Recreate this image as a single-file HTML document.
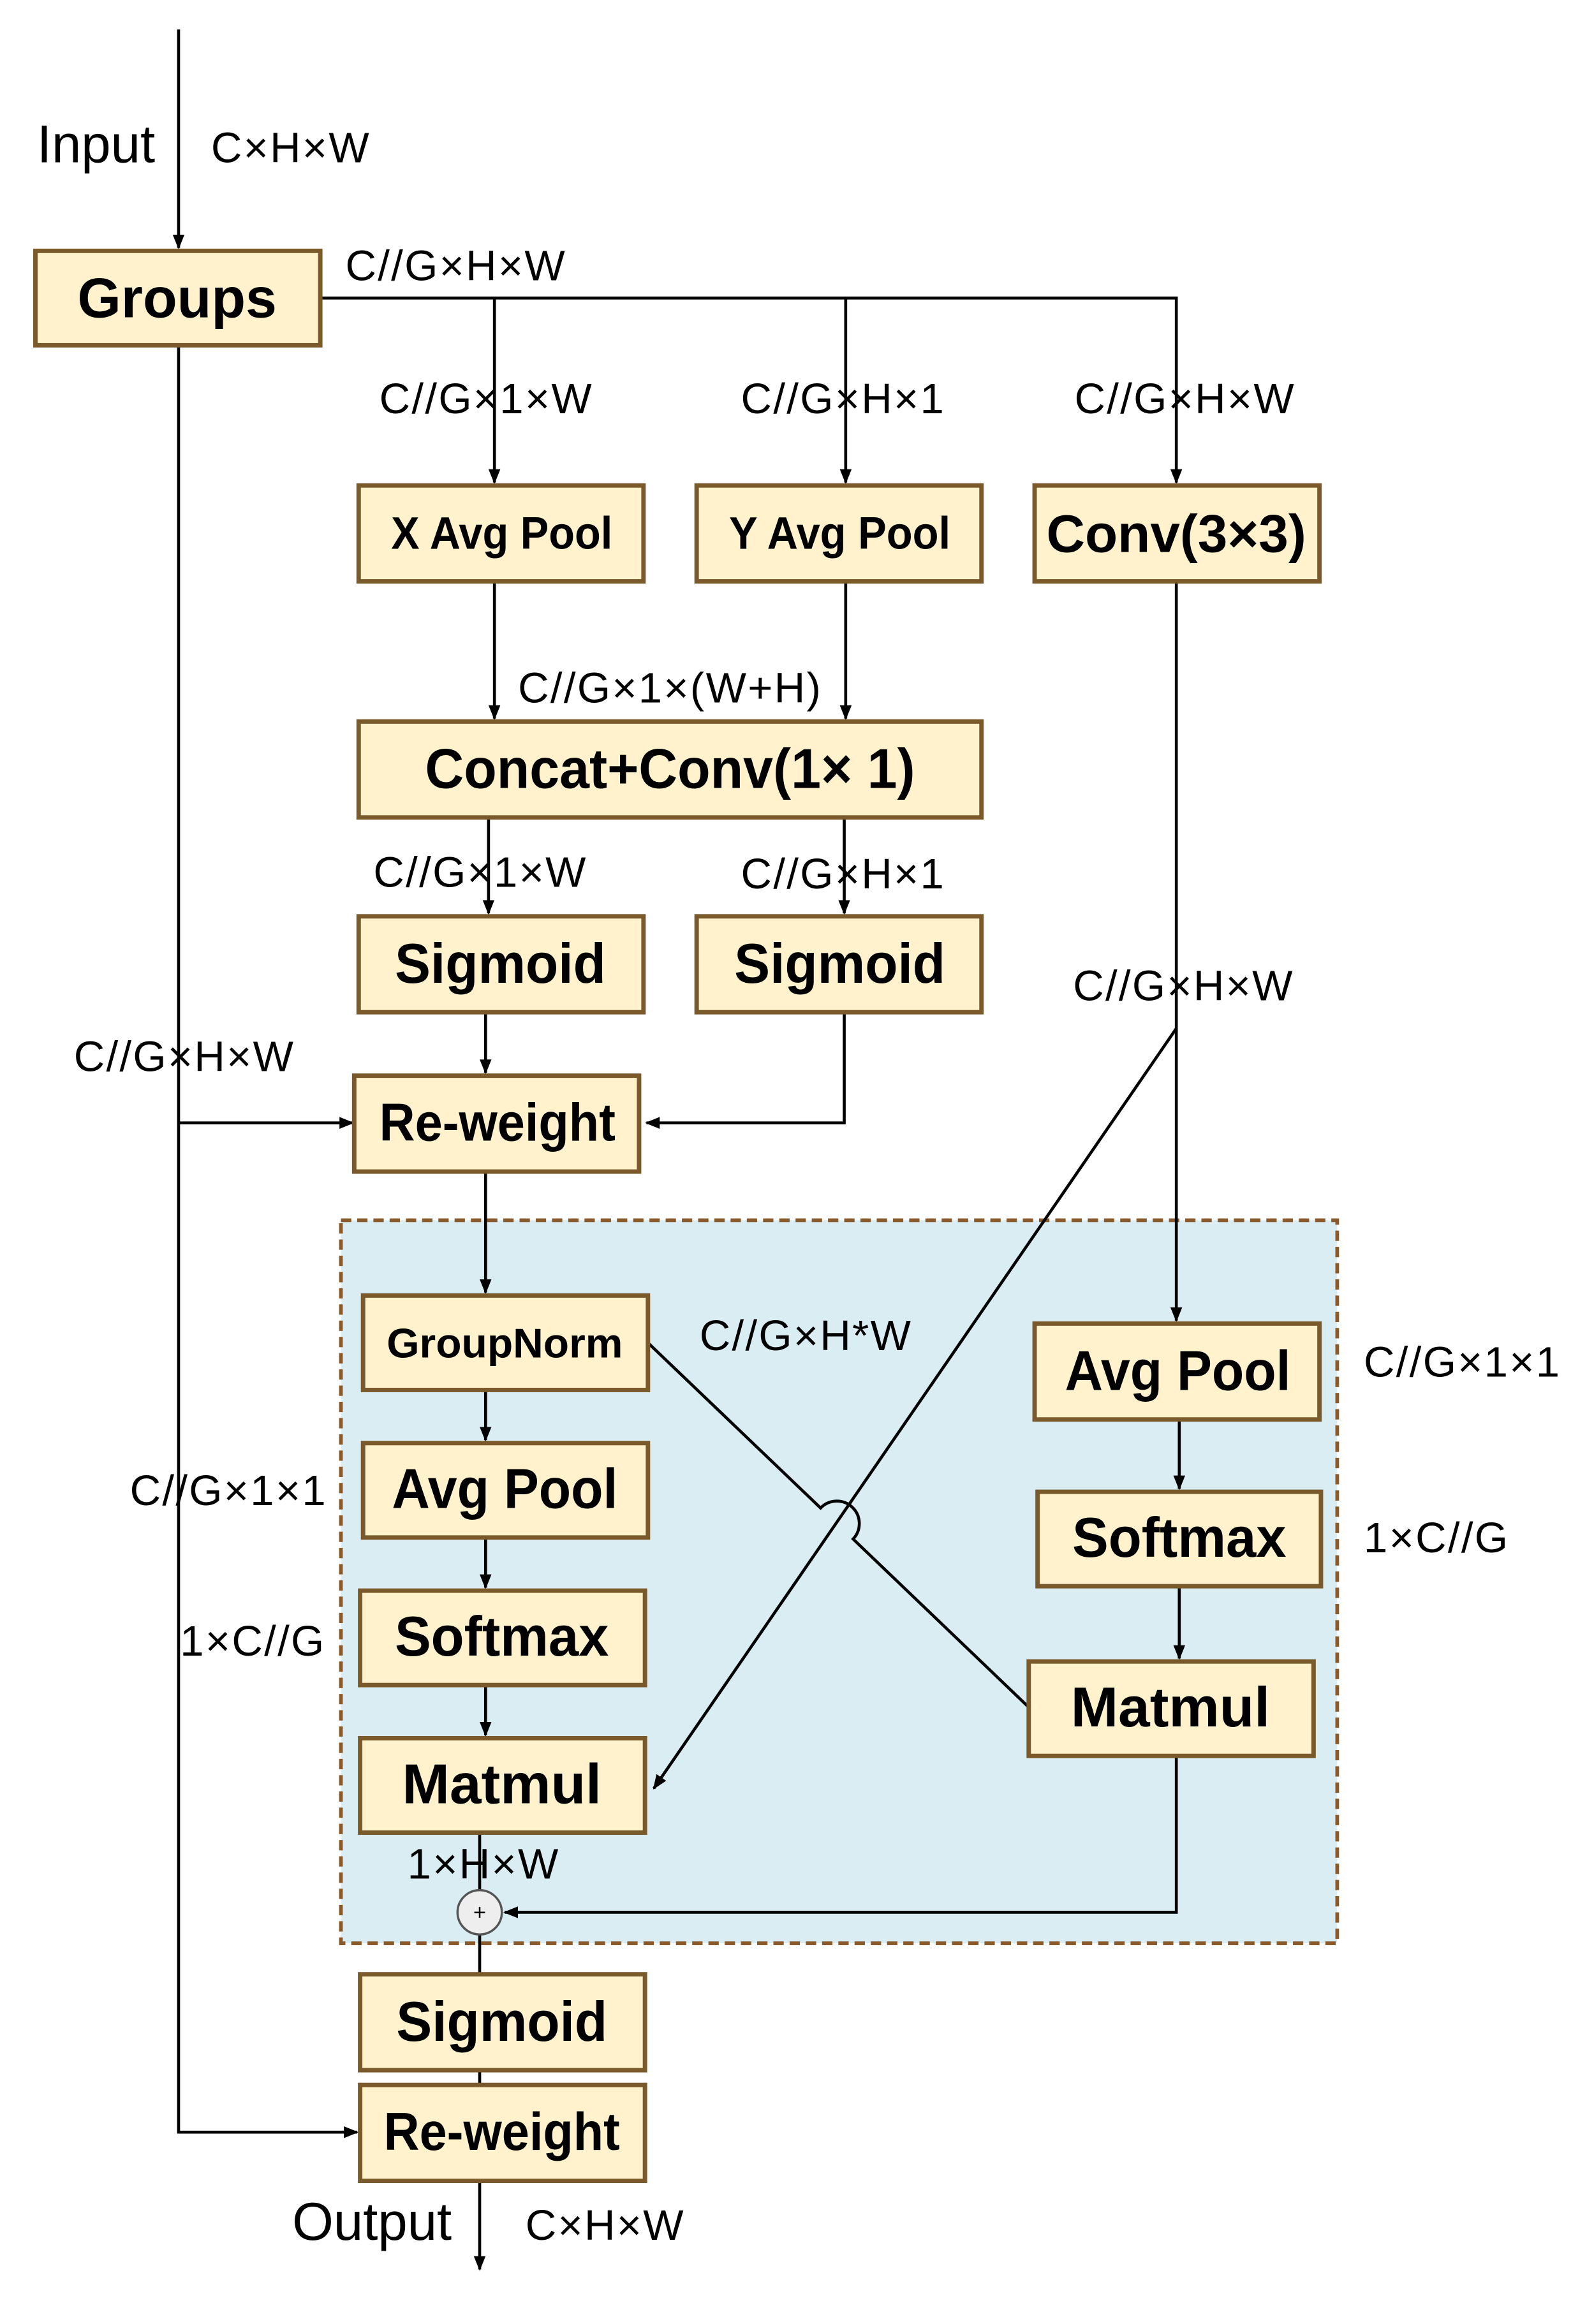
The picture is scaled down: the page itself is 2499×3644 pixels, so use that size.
<!DOCTYPE html>
<html><head><meta charset="utf-8"><style>
html,body{margin:0;padding:0;background:#fff;}
svg{display:block;}
.b{fill:#fff2cc;stroke:#7a5a2b;stroke-width:3;}
.t{font-family:"Liberation Sans",sans-serif;font-weight:bold;fill:#000;text-anchor:middle;}
.l{font-family:"Liberation Sans",sans-serif;fill:#000;font-size:29px;letter-spacing:1px;}
.ln{stroke:#000;stroke-width:2;fill:none;}
</style></head><body>
<svg width="2499" height="3644" viewBox="0 0 1080 1575" preserveAspectRatio="none" xmlns="http://www.w3.org/2000/svg">
<defs><marker id="a" markerWidth="10" markerHeight="10" refX="9" refY="5" orient="auto" markerUnits="userSpaceOnUse"><path d="M0,1 L10,5 L0,9 z" fill="#000"/></marker></defs>
<rect x="231" y="827" width="675" height="490" fill="#daedf3" stroke="#8a5a2b" stroke-width="2.5" stroke-dasharray="7,4"/>
<path class="ln" d="M121,20 V168" marker-end="url(#a)"/>
<path class="ln" d="M217,202 H797 V327" marker-end="url(#a)"/>
<path class="ln" d="M335,202 V327" marker-end="url(#a)"/>
<path class="ln" d="M573,202 V327" marker-end="url(#a)"/>
<path class="ln" d="M335,394 V487" marker-end="url(#a)"/>
<path class="ln" d="M573,394 V487" marker-end="url(#a)"/>
<path class="ln" d="M331,554 V619" marker-end="url(#a)"/>
<path class="ln" d="M572,554 V619" marker-end="url(#a)"/>
<path class="ln" d="M329,686 V727" marker-end="url(#a)"/>
<path class="ln" d="M572,686 V761 H438" marker-end="url(#a)"/>
<path class="ln" d="M121,234 V1445 H242" marker-end="url(#a)"/>
<path class="ln" d="M121,761 H239" marker-end="url(#a)"/>
<path class="ln" d="M329,794 V876" marker-end="url(#a)"/>
<path class="ln" d="M329,942 V976" marker-end="url(#a)"/>
<path class="ln" d="M329,1042 V1076" marker-end="url(#a)"/>
<path class="ln" d="M329,1142 V1176" marker-end="url(#a)"/>
<path class="ln" d="M797,394 V895" marker-end="url(#a)"/>
<path class="ln" d="M799,962 V1009" marker-end="url(#a)"/>
<path class="ln" d="M799,1075 V1124" marker-end="url(#a)"/>
<path class="ln" d="M797,697 L443,1212" marker-end="url(#a)"/>
<path class="ln" d="M439,910 L556,1022 A14,14 0 0 1 578,1043 L697,1157"/>
<path class="ln" d="M325,1242 V1281"/>
<path class="ln" d="M797,1190 V1296 H342" marker-end="url(#a)"/>
<path class="ln" d="M325,1311 V1338"/>
<path class="ln" d="M325,1403 V1413"/>
<path class="ln" d="M325,1478 V1538" marker-end="url(#a)"/>
<circle cx="325" cy="1296" r="15" fill="#eee" stroke="#555" stroke-width="1.5"/>
<text x="325" y="1301" font-family="Liberation Sans,sans-serif" font-size="15" text-anchor="middle">+</text>
<rect class="b" x="24" y="170" width="193" height="64"/><text class="t" x="120" y="215" font-size="38">Groups</text>
<rect class="b" x="243" y="329" width="193" height="65"/><text class="t" x="340" y="372" font-size="31" textLength="150" lengthAdjust="spacingAndGlyphs">X Avg Pool</text>
<rect class="b" x="472" y="329" width="193" height="65"/><text class="t" x="569" y="372" font-size="31" textLength="150" lengthAdjust="spacingAndGlyphs">Y Avg Pool</text>
<rect class="b" x="701" y="329" width="193" height="65"/><text class="t" x="797" y="374" font-size="36" textLength="176" lengthAdjust="spacingAndGlyphs">Conv(3×3)</text>
<rect class="b" x="243" y="489" width="422" height="65"/><text class="t" x="454" y="534" font-size="38" textLength="332" lengthAdjust="spacingAndGlyphs">Concat+Conv(1× 1)</text>
<rect class="b" x="243" y="621" width="193" height="65"/><text class="t" x="339" y="666" font-size="38" textLength="143" lengthAdjust="spacingAndGlyphs">Sigmoid</text>
<rect class="b" x="472" y="621" width="193" height="65"/><text class="t" x="569" y="666" font-size="38" textLength="143" lengthAdjust="spacingAndGlyphs">Sigmoid</text>
<rect class="b" x="240" y="729" width="193" height="65"/><text class="t" x="337" y="773" font-size="36" textLength="160" lengthAdjust="spacingAndGlyphs">Re-weight</text>
<rect class="b" x="246" y="878" width="193" height="64"/><text class="t" x="342" y="920" font-size="28" textLength="160" lengthAdjust="spacingAndGlyphs">GroupNorm</text>
<rect class="b" x="246" y="978" width="193" height="64"/><text class="t" x="342" y="1022" font-size="38" textLength="153" lengthAdjust="spacingAndGlyphs">Avg Pool</text>
<rect class="b" x="244" y="1078" width="193" height="64"/><text class="t" x="340" y="1122" font-size="38" textLength="145" lengthAdjust="spacingAndGlyphs">Softmax</text>
<rect class="b" x="244" y="1178" width="193" height="64"/><text class="t" x="340" y="1222" font-size="38" textLength="135" lengthAdjust="spacingAndGlyphs">Matmul</text>
<rect class="b" x="701" y="897" width="193" height="65"/><text class="t" x="798" y="942" font-size="38" textLength="153" lengthAdjust="spacingAndGlyphs">Avg Pool</text>
<rect class="b" x="703" y="1011" width="192" height="64"/><text class="t" x="799" y="1055" font-size="38" textLength="145" lengthAdjust="spacingAndGlyphs">Softmax</text>
<rect class="b" x="697" y="1126" width="193" height="64"/><text class="t" x="793" y="1170" font-size="38" textLength="135" lengthAdjust="spacingAndGlyphs">Matmul</text>
<rect class="b" x="244" y="1338" width="193" height="65"/><text class="t" x="340" y="1383" font-size="38" textLength="143" lengthAdjust="spacingAndGlyphs">Sigmoid</text>
<rect class="b" x="244" y="1413" width="193" height="65"/><text class="t" x="340" y="1457" font-size="36" textLength="160" lengthAdjust="spacingAndGlyphs">Re-weight</text>
<text class="l" x="25" y="110" style="font-size:36px;letter-spacing:0">Input</text>
<text class="l" x="143" y="110">C×H×W</text>
<text class="l" x="234" y="190">C//G×H×W</text>
<text class="l" x="257" y="280">C//G×1×W</text>
<text class="l" x="502" y="280">C//G×H×1</text>
<text class="l" x="728" y="280">C//G×H×W</text>
<text class="l" x="351" y="476">C//G×1×(W+H)</text>
<text class="l" x="253" y="601">C//G×1×W</text>
<text class="l" x="502" y="602">C//G×H×1</text>
<text class="l" x="727" y="678">C//G×H×W</text>
<text class="l" x="50" y="726">C//G×H×W</text>
<text class="l" x="474" y="915">C//G×H*W</text>
<text class="l" x="88" y="1020">C//G×1×1</text>
<text class="l" x="122" y="1122">1×C//G</text>
<text class="l" x="924" y="933">C//G×1×1</text>
<text class="l" x="924" y="1052">1×C//G</text>
<text class="l" x="276" y="1273">1×H×W</text>
<text class="l" x="198" y="1518" style="font-size:36px;letter-spacing:0">Output</text>
<text class="l" x="356" y="1518">C×H×W</text>
</svg>
</body></html>
